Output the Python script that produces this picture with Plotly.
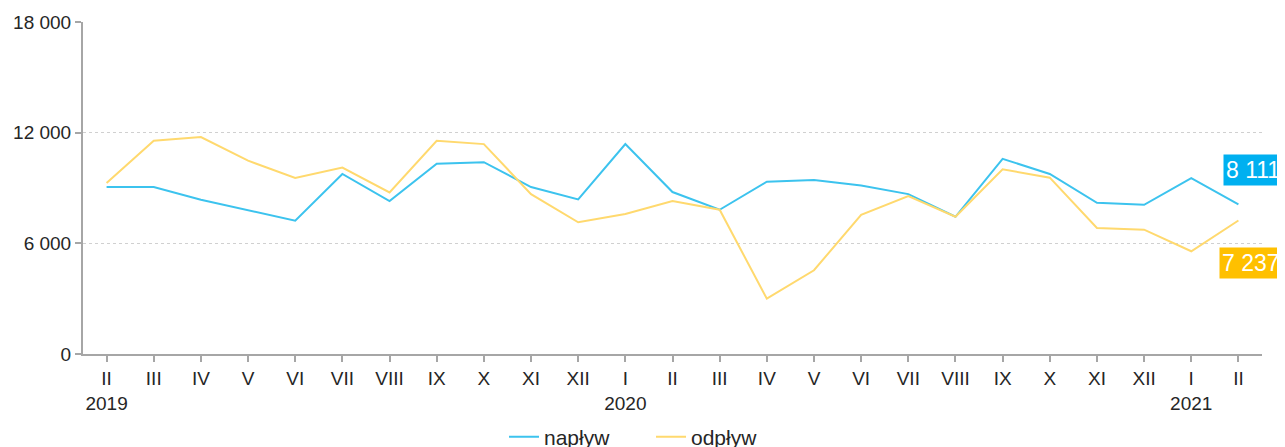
import plotly.graph_objects as go

months = ["II", "III", "IV", "V", "VI", "VII", "VIII", "IX", "X", "XI", "XII", "I",
          "II", "III", "IV", "V", "VI", "VII", "VIII", "IX", "X", "XI", "XII", "I", "II"]
years = {0: "2019", 11: "2020", 23: "2021"}
naplyw = [9050, 9050, 8360, 7790, 7230, 9760, 8290, 10310, 10400, 9050, 8380, 11380,
          8780, 7820, 9340, 9430, 9140, 8670, 7440, 10580, 9760, 8200, 8090, 9540, 8111]
odplyw = [9270, 11560, 11760, 10480, 9540, 10110, 8760, 11560, 11380, 8670, 7140, 7590,
          8290, 7820, 3000, 4540, 7550, 8560, 7440, 10010, 9560, 6830, 6740, 5570, 7237]
y_ticks = [0, 6000, 12000, 18000]

x = list(range(len(months)))
ticktext = [m + ("<br>" + years[i] if i in years else "") for i, m in enumerate(months)]

FONT = "Liberation Sans, Arial, sans-serif"
BLUE = "#3CC3EE"
YELLOW = "#FFD96E"

fig = go.Figure()
fig.add_trace(go.Scatter(x=x, y=naplyw, mode="lines", name="napływ",
                         line=dict(color=BLUE, width=2)))
fig.add_trace(go.Scatter(x=x, y=odplyw, mode="lines", name="odpływ",
                         line=dict(color=YELLOW, width=2)))

def fmt(v):
    return f"{v:,}".replace(",", " ")

fig.add_annotation(xref="paper", yref="y", x=0.9665, y=9990, xanchor="left", yanchor="middle",
                   text=fmt(naplyw[-1]), showarrow=False, bgcolor="#00B0F0",
                   font=dict(family=FONT, size=23, color="white"), borderpad=2)
fig.add_annotation(xref="paper", yref="y", x=0.9635, y=4950, xanchor="left", yanchor="middle",
                   text=fmt(odplyw[-1]), showarrow=False, bgcolor="#FFC000",
                   font=dict(family=FONT, size=23, color="white"), borderpad=2)

fig.update_layout(
    width=1285, height=447,
    margin=dict(l=75, r=31, t=14, b=101, autoexpand=False),
    plot_bgcolor="white", paper_bgcolor="white",
    separators=", ",
    font=dict(family=FONT, size=19, color="#262626"),
    showlegend=True,
    legend=dict(orientation="h", x=0.5004, xanchor="center", xref="container",
                y=0.040, yanchor="middle", yref="container",
                font=dict(size=21), tracegroupgap=0,
                entrywidth=102, entrywidthmode="pixels"),
    xaxis=dict(tickmode="array", tickvals=x, ticktext=ticktext, range=[-0.5, len(x) - 0.5],
               showgrid=False, showline=True, linecolor="#A6A6A6", linewidth=2,
               ticks="outside", tickson="boundaries", ticklen=6, tickcolor="#A6A6A6",
               tickwidth=2, zeroline=False, automargin=False),
    yaxis=dict(range=[0, 18000], tickvals=y_ticks, tickformat=",d",
               showgrid=True, gridcolor="#D0D0D0", griddash="dot", gridwidth=1,
               showline=True, linecolor="#A6A6A6", linewidth=2,
               ticks="outside", ticklen=6, tickcolor="#A6A6A6", tickwidth=2,
               zeroline=False, automargin=False),
)

fig.write_html("out.html")
